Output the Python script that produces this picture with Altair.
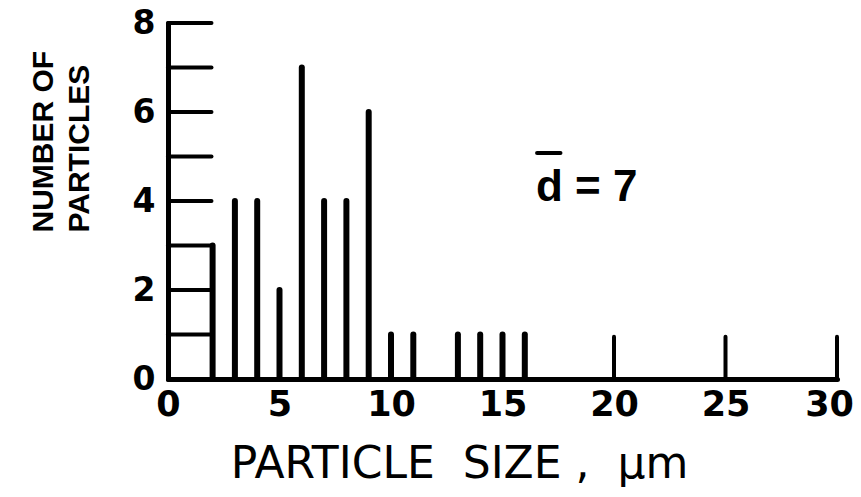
import altair as alt
import pandas as pd

# particle sizes (um) and counts
sizes = [2, 3, 4, 5, 6, 7, 8, 9, 10, 11, 13, 14, 15, 16]
counts = [3, 4, 4, 2, 7, 4, 4, 6, 1, 1, 1, 1, 1, 1]

y_tick_values = [0, 1, 2, 3, 4, 5, 6, 7, 8]
y_label_values = [0, 2, 4, 6, 8]
x_tick_values = [0, 5, 10, 15, 20, 25, 30]

annot_text = ["d = 7"]
annot_x = [16.5]
annot_y = [4.0]
macron_x = [16.55]
macron_x2 = [17.6]
macron_y = [5.08]

bars = pd.DataFrame({"size": sizes, "count": counts})
yt = pd.DataFrame({"y": y_tick_values})
xt = pd.DataFrame({"x": x_tick_values})
ann = pd.DataFrame({"x": annot_x, "y": annot_y, "t": annot_text})
mac = pd.DataFrame({"x": macron_x, "x2": macron_x2, "y": macron_y})

XS = alt.Scale(domain=[0, 30], nice=False, zero=False)
YS = alt.Scale(domain=[0, 8], nice=False)

NB = "\u00a0"

x_axis = alt.Axis(
    values=x_tick_values, ticks=False, grid=False,
    domainColor="black", domainWidth=5, domainCap="round",
    labelFont="DejaVu Sans", labelFontSize=35, labelFontWeight="bold",
    labelColor="black", labelPadding=8, labelFlush=False,
    labelOffset=alt.condition("datum.value == 30", alt.value(-8), alt.value(0)),
    title="PARTICLE" + NB * 2 + "SIZE" + NB + "," + NB * 2 + "\u03bcm",
    titleFont="DejaVu Sans",
    titleFontSize=44, titleFontWeight="normal", titleColor="black",
    titleAlign="center", titleBaseline="alphabetic",
    titleX=291, titleY=98,
)
y_axis = alt.Axis(
    values=y_label_values, ticks=False, grid=False,
    domainColor="black", domainWidth=5, domainCap="round",
    labelFont="DejaVu Sans", labelFontSize=33, labelFontWeight="bold",
    labelColor="black", labelPadding=13, labelFlush=False,
    title=["NUMBER OF", "PARTICLES"],
    titleFont="Liberation Sans Narrow, Liberation Sans, Arial, sans-serif",
    titleFontSize=30, titleFontWeight="bold", titleColor="black",
    titleAngle=-90, titleAlign="left", titleBaseline="top",
    titleX=-140, titleY=209, titleLineHeight=36,
)

bar_layer = alt.Chart(bars).mark_rule(strokeWidth=6, strokeCap="round", color="black").encode(
    x=alt.X("size:Q", scale=XS, axis=x_axis),
    y=alt.Y("count:Q", scale=YS, axis=y_axis),
    y2=alt.datum(0),
)

ytick_layer = alt.Chart(yt).mark_rule(strokeWidth=4, strokeCap="round", color="black").encode(
    y=alt.Y("y:Q", scale=YS),
    x=alt.datum(0),
    x2=alt.datum(1.95),
)

xtick_layer = alt.Chart(xt).mark_rule(strokeWidth=4, strokeCap="round", color="black").encode(
    x=alt.X("x:Q", scale=XS),
    y=alt.datum(0),
    y2=alt.datum(0.95),
)

ann_layer = alt.Chart(ann).mark_text(
    font="Liberation Sans, Arial, sans-serif", fontSize=44, fontWeight="bold", color="black",
    align="left", baseline="alphabetic",
).encode(
    x=alt.X("x:Q", scale=XS),
    y=alt.Y("y:Q", scale=YS),
    text="t:N",
)

mac_layer = alt.Chart(mac).mark_rule(strokeWidth=4, strokeCap="round", color="black").encode(
    x=alt.X("x:Q", scale=XS),
    x2="x2:Q",
    y=alt.Y("y:Q", scale=YS),
)

chart = alt.layer(bar_layer, ytick_layer, xtick_layer, ann_layer, mac_layer).properties(
    width=669, height=356,
    autosize=alt.AutoSizeParams(type="none"),
    padding={"left": 160, "top": 15, "right": 16, "bottom": 108},
    background="white",
).configure_view(stroke=None)

chart.save("out.html", embed_options={"renderer": "svg", "actions": False})
